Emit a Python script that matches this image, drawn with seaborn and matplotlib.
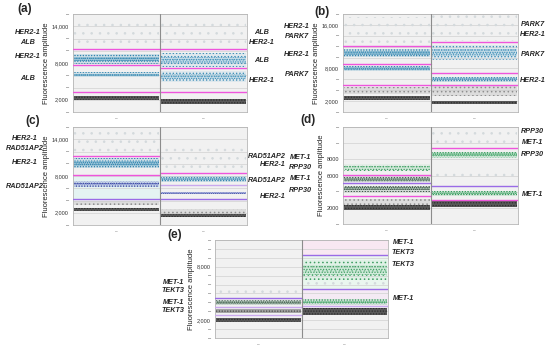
import numpy as np
import pandas as pd
import matplotlib
matplotlib.use("Agg")
import matplotlib.pyplot as plt
import matplotlib.colors as mcolors
import seaborn as sns

sns.set_style("whitegrid")
plt.rcParams["font.family"] = ["Liberation Sans", "DejaVu Sans"]
plt.rcParams["hatch.linewidth"] = 0.6

# ---------------- data (amplitudes) ----------------
# (a) HER2-1 / ALB
a_ticks_shown = {2000: "2,000", 8000: "8,000", 14000: "14,000"}
a_thr_well = [0, 0, 0, 1, 1, 1]
a_thr_value = [10300, 7600, 3200, 10300, 7200, 3200]
a_thr_kind = ["pink", "pink", "pink", "pink", "pink", "pink"]
a_cl_well = [0, 0, 0, 0, 1, 1, 1, 1]
a_cl_mid = [13000, 8650, 6100, 2300, 13000, 8500, 5800, 1750]
a_cl_half = [2400, 800, 350, 380, 2400, 1100, 900, 380]
a_cl_kind = ["dp", "blue", "blue", "neg", "dp", "blue_sparse", "blue_sparse", "neg"]
a_left_genes = ["HER2-1", "ALB", "HER2-1", "ALB"]
a_right_genes = ["ALB", "HER2-1", "ALB", "HER2-1"]

# (b) HER2-1 / PARK7
b_ticks_shown = {2000: "2,000", 8000: "8,000", 16000: "16,000"}
b_thr_well = [0, 0, 0, 1, 1, 1]
b_thr_value = [12200, 8850, 4900, 12800, 7100, 4900]
b_thr_kind = ["pink", "pink", "pink", "pink", "pink", "pink"]
b_cl_well = [0, 0, 0, 0, 0, 1, 1, 1, 1, 1]
b_cl_mid = [15000, 10850, 8000, 4000, 2650, 15500, 10900, 6000, 3900, 1760]
b_cl_half = [2500, 700, 450, 650, 380, 2500, 1400, 400, 1000, 340]
b_cl_kind = ["dp", "blue", "blue", "rain", "neg", "dp", "blue_sparse", "blue", "rain", "neg"]
b_left_genes = ["HER2-1", "PARK7", "HER2-1", "PARK7"]
b_right_genes = ["PARK7", "HER2-1", "PARK7", "HER2-1"]

# (c) HER2-1 / RAD51AP2
c_ticks_shown = {2000: "2,000", 8000: "8,000", 14000: "14,000"}
c_thr_well = [0, 0, 0, 1, 1, 1]
c_thr_value = [11300, 8150, 4250, 8500, 6500, 4250]
c_thr_kind = ["pink", "pink", "violet", "pink", "lavender", "violet"]
c_cl_well = [0, 0, 0, 0, 0, 1, 1, 1, 1, 1]
c_cl_mid = [13500, 10100, 6700, 3600, 2550, 11000, 7500, 5200, 2200, 1550]
c_cl_half = [2000, 800, 450, 400, 260, 2000, 450, 220, 400, 260]
c_cl_kind = ["dp", "blue", "navy", "rain", "neg", "dp", "blue", "navy", "rain", "neg"]
c_left_genes = ["HER2-1", "RAD51AP2", "HER2-1", "RAD51AP2"]
c_right_genes = ["RAD51AP2", "HER2-1", "RAD51AP2", "HER2-1"]

# (d) MET-1 / RPP30
d_ticks_shown = {2000: "2000", 6000: "6000", 8000: "8000"}
d_thr_well = [0, 0, 0, 1, 1, 1]
d_thr_value = [6050, 5050, 3450, 9350, 4650, 2950]
d_thr_kind = ["pink", "violet", "pink", "pink", "violet", "pink"]
d_cl_well = [0, 0, 0, 0, 0, 1, 1, 1, 1, 1]
d_cl_mid = [6950, 5500, 4350, 2750, 2000, 10500, 8550, 6000, 3800, 2450]
d_cl_half = [450, 300, 350, 400, 300, 1200, 350, 800, 300, 380]
d_cl_kind = ["green_sparse", "green_dark", "green_dark", "rain", "neg", "dp", "green", "dp", "green", "neg"]
d_left_genes = ["MET-1", "RPP30", "MET-1", "RPP30"]
d_right_genes = ["RPP30", "MET-1", "RPP30", "MET-1"]

# (e) MET-1 / TEKT3
e_ticks_shown = {2000: "2,000", 8000: "8,000"}
e_thr_well = [0, 0, 0, 1, 1, 1]
e_thr_value = [4500, 3500, 2600, 9300, 5450, 3550]
e_thr_kind = ["violet", "lavender", "lavender", "violet", "violet", "lavender"]
e_cl_well = [0, 0, 0, 0, 1, 1, 1, 1]
e_cl_mid = [5200, 3950, 3030, 2000, 7650, 6200, 4050, 2950]
e_cl_half = [500, 300, 250, 250, 1100, 600, 300, 400]
e_cl_kind = ["dp", "green_dark", "neg_light", "neg", "green_sparse", "dp", "green", "neg"]
e_left_genes = ["MET-1", "TEKT3", "MET-1", "TEKT3"]
e_right_genes = ["MET-1", "TEKT3", "TEKT3", "MET-1"]

# ---------------- styles ----------------
THR_COLOR = {"pink": "#ee55dc", "violet": "#9a6be6", "lavender": "#c9a8ee"}
# face colour, face alpha, hatch colour, hatch, soft core
KIND_STYLE = {
    "blue": ("#7fb8d2", 0.55, "#2a7fab", "......", True),
    "blue_sparse": ("#a9d0e2", 0.45, "#3f8fb8", ".....", True),
    "navy": ("#8f9bd8", 0.55, "#33409e", "......", True),
    "green": ("#8fd0a8", 0.55, "#2a9452", "......", True),
    "green_sparse": ("#c2e5cf", 0.5, "#3f9e62", "....", True),
    "green_dark": ("#8fb09c", 0.6, "#344c3e", "......", True),
    "neg": ("#4c4c4c", 0.92, "#2e2e2e", "......", False),
    "neg_light": ("#7d7d7d", 0.65, "#4a4a4a", "......", False),
    "rain": ("#c4c4c4", 0.45, "#8e8e8e", "....", False),
    "dp": ("#eeeeee", 0.0, "#d3d9dc", "..", False),
}
TINTS = {
    "c": [(0, 4250, 8150, "#e4f3f2")],
    "e": [(1, 9300, 11000, "#f8e8f2"), (1, 5450, 9300, "#eaf6ef"), (1, 3550, 5450, "#f4eaf4")],
}

W, H = 550, 346
fig = plt.figure(figsize=(W / 100, H / 100), dpi=100)


def px_rect(left, top, right, bottom):
    return [left / W, 1 - bottom / H, (right - left) / W, (bottom - top) / H]


def fig_text(x, y, s, **kw):
    fig.text(x / W, 1 - y / H, s, **kw)


def draw_panel(key, rect, ymax, ystep, shown, thr_well, thr_value, thr_kind,
               cl_well, cl_mid, cl_half, cl_kind):
    ax = fig.add_axes(px_rect(*rect))
    ax.set_facecolor("#f1f1f1")
    for well, lo, hi, col in TINTS.get(key, []):
        ax.fill_between([well, well + 1], lo, hi, color=col, lw=0, zorder=0.5)
    # droplet clusters: textured bands, denser in the core
    for well, mid, half, kind in zip(cl_well, cl_mid, cl_half, cl_kind):
        fc, fa, hc, hatch, core = KIND_STYLE[kind]
        xs = [well + 0.01, well + 0.99]
        ax.fill_between(xs, mid - half, mid + half,
                        facecolor=mcolors.to_rgba(fc, fa * (0.55 if core else 1)),
                        edgecolor=hc, hatch=hatch, linewidth=0, zorder=2)
        if core:
            ax.fill_between(xs, mid - half * 0.5, mid + half * 0.5,
                            facecolor=mcolors.to_rgba(fc, fa), edgecolor=hc,
                            hatch=hatch + "..", linewidth=0, zorder=2.1)
    # thresholds
    thr = pd.DataFrame({"well": thr_well, "amp": thr_value, "kind": thr_kind})
    thr["seg"] = np.arange(len(thr))
    seg = pd.concat([thr.assign(x=thr["well"]), thr.assign(x=thr["well"] + 1)])
    for kind, sub in seg.groupby("kind"):
        sns.lineplot(data=sub, x="x", y="amp", units="seg", estimator=None,
                     color=THR_COLOR[kind], lw=1.0, ax=ax, zorder=3)
    ax.axvline(1, color="#8c8c8c", lw=0.8, zorder=4)
    ax.set_xlim(0, 2)
    ax.set_ylim(0, ymax)
    ticks = np.arange(0, ymax + 1, ystep)
    ax.set_yticks(ticks)
    ax.set_yticklabels([shown.get(int(t), "–") for t in ticks], fontsize=4.0, color="#333333")
    ax.set_xticks([0.5, 1.5])
    ax.set_xticklabels(["–", "–"], fontsize=3.5, color="#777777")
    ax.tick_params(length=0, pad=3)
    ax.grid(axis="y", color="#d6d6d6", lw=0.6)
    ax.grid(axis="x", visible=False)
    for sp in ax.spines.values():
        sp.set_color("#b5b5b5")
        sp.set_linewidth(0.6)
    ax.set_xlabel("")
    ax.set_ylabel("Fluorescence amplitude", fontsize=5.5, labelpad=1, color="#222222")
    return ax


draw_panel("a", (73, 14, 247, 112), 16000, 2000, a_ticks_shown, a_thr_well, a_thr_value,
           a_thr_kind, a_cl_well, a_cl_mid, a_cl_half, a_cl_kind)
draw_panel("b", (343, 14, 518, 112), 18000, 2000, b_ticks_shown, b_thr_well, b_thr_value,
           b_thr_kind, b_cl_well, b_cl_mid, b_cl_half, b_cl_kind)
draw_panel("c", (73, 127, 247, 225), 16000, 2000, c_ticks_shown, c_thr_well, c_thr_value,
           c_thr_kind, c_cl_well, c_cl_mid, c_cl_half, c_cl_kind)
draw_panel("d", (343, 127, 518, 224), 12000, 2000, d_ticks_shown, d_thr_well, d_thr_value,
           d_thr_kind, d_cl_well, d_cl_mid, d_cl_half, d_cl_kind)
draw_panel("e", (215, 240, 388, 338), 11000, 1000, e_ticks_shown, e_thr_well, e_thr_value,
           e_thr_kind, e_cl_well, e_cl_mid, e_cl_half, e_cl_kind)

# panel letters
for x, y, s in [(25, 9, "(a)"), (322, 12, "(b)"), (33, 121, "(c)"), (308, 120, "(d)"), (175, 235, "(e)")]:
    fig_text(x, y, s, fontsize=8.5, fontweight="bold", ha="center", va="center")

gene_kw = dict(fontsize=5.2, fontweight="bold", fontstyle="italic", va="center")
label_sets = [
    (a_left_genes, 28, [32, 42, 57, 79], "center"),
    (a_right_genes, 262, [32, 42, 60, 80], "center"),
    (b_left_genes, 297, [27, 37, 55, 75], "center"),
    (b_right_genes, 533, [25, 34, 54, 80], "center"),
    (c_left_genes, 25, [139, 148, 163, 187], "center"),
    (c_right_genes, 286, [157, 165, 180, 196], "right"),
    (d_left_genes, 300, [158, 167, 178, 191], "center"),
    (d_right_genes, 532, [132, 143, 155, 194], "center"),
    (e_left_genes, 173, [282, 291, 302, 311], "center"),
    (e_right_genes, 403, [242, 252, 264, 299], "center"),
]
for genes, x, ys, ha in label_sets:
    for g, y in zip(genes, ys):
        fig_text(x, y, g, ha=ha, **gene_kw)

fig.savefig("out.png", dpi=100)
